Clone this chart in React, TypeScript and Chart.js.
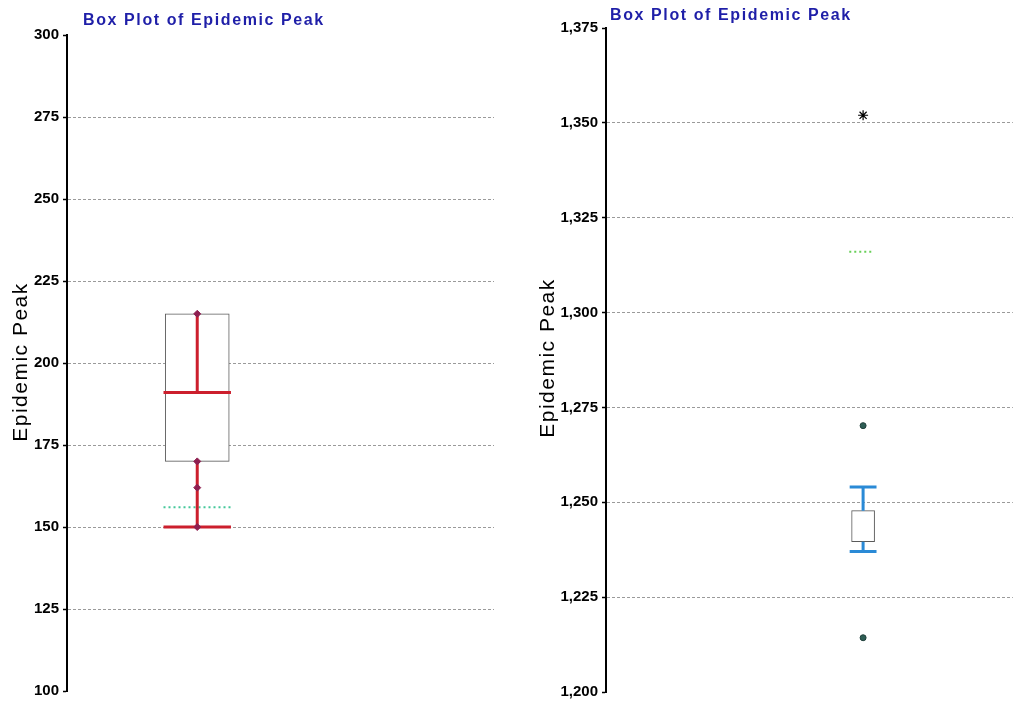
import React, { useEffect, useRef } from 'react';
import { Chart, registerables } from 'chart.js';

Chart.register(...registerables);

const CHART_TITLE = 'Box Plot of Epidemic Peak';
const AXIS_TITLE = 'Epidemic Peak';

// Left panel values
const leftRange = [100, 300];
const leftBox = [170, 215]; // Q1, Q3
const leftMedian = 191;
const leftWhisker = [150, 215]; // low, high
const leftPoints = [150, 162, 170, 215];
const leftMean = 156;

// Right panel values
const rightRange = [1200, 1375];
const rightBox = [1239.6, 1247.8]; // Q1, Q3
const rightWhisker = [1237, 1254]; // low, high
const rightOutliers = [1214.3, 1270.2];
const rightExtremes = [1352];
const rightMean = 1316;

const TICK_STEP = 25;
const FONT = '"Liberation Sans", Arial, sans-serif';

const textPlugin = {
  id: 'epiText',
  afterDraw(chart: any, _args: any, opts: any) {
    const { ctx } = chart;
    ctx.save();
    ctx.fillStyle = '#1f1fa8';
    ctx.font = `bold 16px ${FONT}`;
    ctx.letterSpacing = '1.6px';
    ctx.textAlign = 'left';
    ctx.textBaseline = 'alphabetic';
    ctx.fillText(opts.title, opts.titleX, opts.titleBaseline);
    ctx.restore();

    ctx.save();
    ctx.fillStyle = '#000';
    ctx.font = `21px ${FONT}`;
    ctx.letterSpacing = '1.5px';
    ctx.textAlign = 'center';
    ctx.textBaseline = 'alphabetic';
    ctx.translate(opts.axisX, opts.axisY);
    ctx.rotate(-Math.PI / 2);
    ctx.fillText(opts.axisTitle, 0, 0);
    ctx.restore();
  },
};

function seg(x1: number, y1: number, x2: number, y2: number) {
  return [
    { x: x1, y: y1 },
    { x: x2, y: y2 },
  ];
}

function lineDs(data: any[], color: string, width: number, extra: any = {}) {
  return {
    type: 'line',
    data,
    borderColor: color,
    borderWidth: width,
    pointRadius: 0,
    fill: false,
    tension: 0,
    borderCapStyle: 'butt',
    order: 1,
    ...extra,
  };
}

function pointDs(values: number[], style: string, radius: number, fillCol: string, borderCol: string, bw = 1) {
  return {
    type: 'line',
    data: values.map((v) => ({ x: 0, y: v })),
    showLine: false,
    pointStyle: style,
    pointRadius: radius,
    pointBackgroundColor: fillCol,
    pointBorderColor: borderCol,
    pointBorderWidth: bw,
    order: 0,
  };
}

function baseOptions(range: number[], xMin: number, xMax: number, axisW: number, padding: any, text: any) {
  return {
    responsive: false,
    animation: false,
    events: [],
    layout: { padding },
    plugins: {
      legend: { display: false },
      tooltip: { enabled: false },
      title: { display: false },
      epiText: text,
    },
    scales: {
      x: { type: 'linear', display: false, min: xMin, max: xMax, offset: false },
      y: {
        type: 'linear',
        min: range[0],
        max: range[1],
        afterFit: (s: any) => {
          s.width = axisW;
          s.paddingTop = 0;
          s.paddingBottom = 0;
        },
        ticks: {
          stepSize: TICK_STEP,
          color: '#000',
          padding: 4,
          font: { family: FONT, size: 15, weight: 'bold' },
          callback: (v: any) => Number(v).toLocaleString('en-US'),
        },
        grid: {
          color: (c: any) =>
            c.tick && (c.tick.value === range[0] || c.tick.value === range[1]) ? 'rgba(0,0,0,0)' : '#9a9a9a',
          lineWidth: 1,
          drawTicks: true,
          tickLength: 4,
          tickColor: '#000',
          tickWidth: 1.5,
        },
        border: { display: true, color: '#000', width: 2, dash: [3, 2] },
      },
    },
  };
}

export default function App() {
  const leftRef = useRef<HTMLCanvasElement>(null);
  const rightRef = useRef<HTMLCanvasElement>(null);

  useEffect(() => {
    const red = '#cc1f2d';
    const cap = 0.079;
    const leftChart = new Chart(leftRef.current as HTMLCanvasElement, {
      type: 'line',
      data: {
        datasets: [
          {
            type: 'bar',
            data: [{ x: 0, y: leftBox }],
            barThickness: 64,
            backgroundColor: '#ffffff',
            borderColor: '#5a5a5a',
            borderWidth: 1,
            borderSkipped: false,
            order: 5,
          },
          lineDs(seg(0, leftMedian, 0, leftWhisker[1]), red, 3),
          lineDs(seg(0, leftWhisker[0], 0, leftBox[0]), red, 3),
          lineDs(seg(-cap, leftMedian, cap, leftMedian), red, 3),
          lineDs(seg(-cap, leftWhisker[0], cap, leftWhisker[0]), red, 3),
          lineDs(seg(-cap, leftMean, cap, leftMean), '#45c89a', 2, { borderDash: [2, 3] }),
          pointDs(leftPoints, 'rectRot', 3.5, '#8e1f50', '#8e1f50'),
        ] as any,
      },
      options: baseOptions(
        leftRange,
        -0.305,
        0.695,
        67,
        { left: 0, top: 35, right: 16, bottom: 26 },
        { title: CHART_TITLE, titleX: 83, titleBaseline: 25, axisTitle: AXIS_TITLE, axisX: 27, axisY: 362 }
      ) as any,
      plugins: [textPlugin],
    });

    const blue = '#2a8ad6';
    const capR = 0.033;
    const rightChart = new Chart(rightRef.current as HTMLCanvasElement, {
      type: 'line',
      data: {
        datasets: [
          {
            type: 'bar',
            data: [{ x: 0, y: rightBox }],
            barThickness: 23,
            backgroundColor: '#ffffff',
            borderColor: '#5a5a5a',
            borderWidth: 1,
            borderSkipped: false,
            order: 5,
          },
          lineDs(seg(0, rightBox[1], 0, rightWhisker[1]), blue, 3),
          lineDs(seg(0, rightWhisker[0], 0, rightBox[0]), blue, 3),
          lineDs(seg(-capR, rightWhisker[1], capR, rightWhisker[1]), blue, 3),
          lineDs(seg(-capR, rightWhisker[0], capR, rightWhisker[0]), blue, 3),
          lineDs(seg(-0.034, rightMean, 0.022, rightMean), '#68cf58', 2, { borderDash: [2, 3] }),
          pointDs(rightOutliers, 'circle', 3, '#2e5e55', '#1f3f3a'),
          pointDs(rightExtremes, 'star', 5, '#000', '#000', 1.2),
        ] as any,
      },
      options: baseOptions(
        rightRange,
        -0.632,
        0.368,
        79,
        { left: 0, top: 28, right: 1, bottom: 25 },
        { title: CHART_TITLE, titleX: 83, titleBaseline: 20, axisTitle: AXIS_TITLE, axisX: 27, axisY: 358 }
      ) as any,
      plugins: [textPlugin],
    });

    return () => {
      leftChart.destroy();
      rightChart.destroy();
    };
  }, []);

  return (
    <div style={{ position: 'absolute', left: 0, top: 0, width: 1019, height: 717, background: '#fff', overflow: 'hidden' }}>
      <canvas ref={leftRef} width={510} height={717} style={{ position: 'absolute', left: 0, top: 0 }} />
      <canvas ref={rightRef} width={492} height={717} style={{ position: 'absolute', left: 527, top: 0 }} />
    </div>
  );
}
